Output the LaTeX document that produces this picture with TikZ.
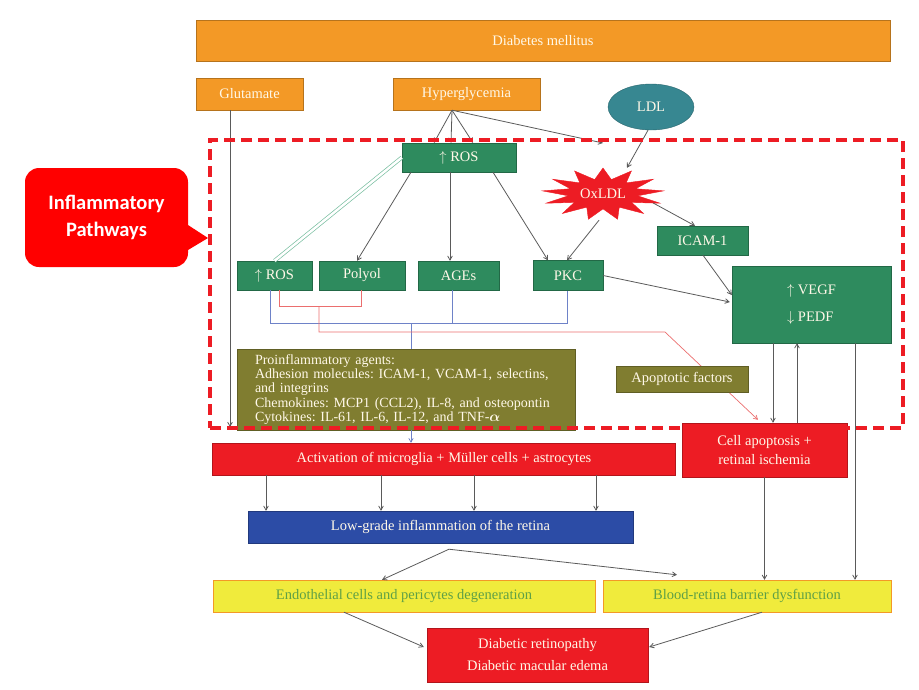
\documentclass[tikz,border=0pt]{standalone}
\usepackage{amsmath,amssymb}
\usepackage{fontspec}
\setmainfont{Liberation Serif}
\newfontfamily\calloutfont{Carlito}
\usepackage{xcolor}
\usepackage{tikz}
\usetikzlibrary{positioning,%
  arrows,%
  shapes.geometric,%
  calc}

\definecolor{dmorange}{RGB}{243,153,38}
\definecolor{dmgreen}{RGB}{46,139,94}
\definecolor{dmteal}{RGB}{55,135,145}
\definecolor{dmred}{RGB}{237,28,36}
\definecolor{dmolive}{RGB}{128,125,48}
\definecolor{dmblue}{RGB}{44,76,166}
\definecolor{dmyellow}{RGB}{240,235,60}
\definecolor{dmtext}{RGB}{255,248,232}
\definecolor{dmyeltext}{RGB}{95,160,70}
\definecolor{dmgray}{RGB}{90,90,90}
\definecolor{dmblueline}{RGB}{110,130,200}
\definecolor{dmredline}{RGB}{235,110,110}
\definecolor{dmdouble}{RGB}{120,190,160}
\definecolor{callred}{RGB}{255,0,0}

\begin{document}
\frenchspacing
\begin{tikzpicture}
            [
                x=1pt, y=-1pt,
                >=angle 60,
                box/.style={draw=#1!75!black, fill=#1, text=dmtext, inner sep=0pt,
                    font=\fontsize{14.5}{16}\selectfont, align=center},
                orangebox/.style={box=dmorange},
                greenbox/.style={box=dmgreen},
                redbox/.style={box=dmred},
                olivebox/.style={box=dmolive},
                bluebox/.style={box=dmblue},
                yellowbox/.style={box=dmyellow, draw=dmorange, text=dmyeltext},
                conn/.style={->, draw=dmgray, line width=0.8pt},
                bluel/.style={draw=dmblueline, line width=0.7pt},
                redl/.style={draw=dmredline, line width=0.7pt}
            ]
            \useasboundingbox (0,0) rectangle (919,689);

            % top row
            \node[orangebox, minimum width=694pt, minimum height=41pt] (dm) at (543,41) {Diabetes mellitus};
            \node[orangebox, minimum width=107pt, minimum height=32pt] (glut) at (249.5,94) {Glutamate};
            \node[orangebox, minimum width=147pt, minimum height=32pt] (hyper) at (466.5,94) {Hyperglycemia};
            \node[box=dmteal, ellipse, minimum width=86pt, minimum height=46pt] (ldl) at (651,107) {LDL};

            % inflammatory pathways
            \node[greenbox, minimum width=114pt, minimum height=29pt] (rosa) at (459,157.5) {$\uparrow$ ROS};
            \begin{scope}[shift={(603,194)}, xscale=2.35]
                \node[star, star points=13, star point ratio=1.75, fill=dmred, draw=dmred,
                    minimum size=52pt, inner sep=0pt, transform shape] (oxstar) {};
            \end{scope}
            \node[ellipse, minimum width=122pt, minimum height=52pt, text=dmtext,
                font=\fontsize{14.5}{16}\selectfont] (oxldl) at (603,194) {OxLDL};
            \node[greenbox, minimum width=91pt, minimum height=29pt] (icam) at (702.5,240.5) {ICAM-1};
            \node[greenbox, minimum width=75pt, minimum height=29pt] (rosb) at (274.5,275.5) {$\uparrow$ ROS};
            \node[greenbox, minimum width=86pt, minimum height=29pt] (polyol) at (362,275.5) {Polyol};
            \node[greenbox, minimum width=81pt, minimum height=29pt] (ages) at (458.5,275.5) {AGEs};
            \node[greenbox, minimum width=70pt, minimum height=30pt] (pkc) at (568,275.5) {PKC};
            \node[greenbox, minimum width=159pt, minimum height=77pt, align=left,
                font=\fontsize{14.5}{27}\selectfont] (vegf) at (811.5,304.5) {$\uparrow$ VEGF\\$\downarrow$ PEDF};
            \node[olivebox, minimum width=338pt, minimum height=81pt, text width=302pt,
                inner xsep=18pt, align=left, font=\fontsize{14}{14.3}\selectfont] (proinf) at (406,389.5)
                {Proinflammatory agents:\\
                 Adhesion molecules: ICAM-1, VCAM-1, selectins,\\
                 and integrins\\
                 Chemokines: MCP1 (CCL2), IL-8, and osteopontin\\
                 Cytokines: IL-61, IL-6, IL-12, and TNF-$\boldsymbol{\alpha}$};

            % lower part
            \node[redbox, minimum width=463pt, minimum height=32pt] (activ) at (444,459)
                {Activation of microglia + Müller cells + astrocytes};
            \node[redbox, minimum width=165pt, minimum height=54pt, font=\fontsize{14.5}{19}\selectfont]
                (cellap) at (764.5,450) {Cell apoptosis +\\retinal ischemia};
            \node[bluebox, minimum width=385pt, minimum height=32pt] (lowg) at (440.5,527)
                {Low-grade inflammation of the retina};
            \node[yellowbox, minimum width=382pt, minimum height=32pt] (endo) at (404,596)
                {Endothelial cells and pericytes degeneration};
            \node[yellowbox, minimum width=288pt, minimum height=32pt] (bloodr) at (747,596)
                {Blood-retina barrier dysfunction};
            \node[redbox, minimum width=221pt, minimum height=54pt, font=\fontsize{14.5}{22}\selectfont]
                (dr) at (537.5,655) {Diabetic retinopathy\\Diabetic macular edema};

            % connectors
            \coordinate (hfork) at ([xshift=-14.5pt]hyper.south);
            \coordinate (oxtip) at (603,143);
            \coordinate (gluttip) at (230,427);
            \foreach \dx in {-25,-8,14}
                \draw[conn] (hfork) -- ([xshift=\dx pt]rosa.north);
            \draw[conn] (hfork) -- (oxtip);
            \draw[conn] ([xshift=-19.5pt]glut.south) -- (gluttip);
            \draw[draw=dmdouble, double=white, double distance=2.5pt, line width=0.7pt]
                (rosa.west) -- (rosb.north);
            \draw[conn] ([xshift=-48pt]rosa.south) -- ([xshift=-5pt]polyol.north);
            \draw[conn] ([xshift=-9pt]rosa.south) -- ([xshift=-8.5pt]ages.north);
            \draw[conn] ([xshift=34pt]rosa.south) -- ([xshift=-20pt]pkc.north);
            \draw[conn] ([xshift=-3pt]ldl.south) -- ([xshift=24pt]oxldl.north);
            \draw[conn] ([xshift=-4pt]oxldl.south) -- ([xshift=-1pt]pkc.north);
            \draw[conn] ([xshift=-11pt,yshift=-9pt]oxldl.east) -- ([xshift=-7.5pt]icam.north);
            \draw[conn] ([xshift=0.5pt]icam.south) -- ([yshift=9.5pt]vegf.west);
            \draw[conn] (pkc.east) -- ([xshift=-2pt,yshift=2.5pt]vegf.west);
            \draw[conn] ([xshift=-38.5pt]vegf.south) -- ([xshift=8.5pt]cellap.north);
            \draw[conn] ([xshift=32.5pt]cellap.north) -- ([xshift=-14.5pt]vegf.south);
            \draw[conn] ([xshift=43.5pt]vegf.south) -- ([xshift=108pt]bloodr.north);
            \draw[conn] (cellap.south) -- ([xshift=17.5pt]bloodr.north);

            % blue and red pathways
            \coordinate (bluebus) at (411,324);
            \draw[bluel] ([xshift=-4.5pt]rosb.south) |- ([xshift=-1pt,yshift=-33pt]pkc.south)
                -- ([xshift=-1pt]pkc.south);
            \draw[bluel] ([xshift=-6.5pt]ages.south) -- ([xshift=-6.5pt,yshift=-33pt]ages.south);
            \draw[bluel] (bluebus) -- ([xshift=5pt]proinf.north);
            \draw[bluel,->] ([xshift=5pt]proinf.south) -- ([xshift=-33pt]activ.north);
            \coordinate (redsplit) at (319,306);
            \coordinate (redbend) at (665,332);
            \draw[redl] ([xshift=4.5pt]rosb.south) |- ([xshift=-1pt,yshift=-16pt]polyol.south)
                -- ([xshift=-1pt]polyol.south);
            \draw[redl,->] (redsplit) |- (redbend) -- ([xshift=-6.5pt,yshift=3pt]cellap.north);
            \node[olivebox, minimum width=132pt, minimum height=26pt] (apopf) at (682,379) {Apoptotic factors};

            \foreach \dx in {-178,-63,30,152}
                \draw[conn] ([xshift=\dx pt]activ.south) -- ([xshift=\dx pt+3.5pt]lowg.north);
            \coordinate (lfork) at ([xshift=8.5pt,yshift=-6pt]lowg.south);
            \draw[conn] (lfork) -- ([xshift=-22pt]endo.north);
            \draw[conn] (lfork) -- ([xshift=-70pt,yshift=5pt]bloodr.north);
            \draw[conn] ([xshift=-60pt]endo.south) -- ([xshift=-3pt,yshift=8pt]dr.west);
            \draw[conn] ([xshift=15pt]bloodr.south) -- ([xshift=1pt,yshift=8pt]dr.east);

            % dashed frame and callout
            \node[draw=dmred, line width=4pt, dash pattern=on 11pt off 6pt,
                minimum width=693pt, minimum height=288pt] (frame) at (556.5,284) {};
            \node[fill=callred, rounded corners=14pt, minimum width=163pt, minimum height=99pt,
                text=white, align=center, font=\calloutfont\bfseries\fontsize{20.5}{27}\selectfont]
                (callout) at (106.5,217.5) {Inflammatory\\Pathways};
            \coordinate (calltip) at (208,238);
            \fill[callred] ([xshift=-1pt,yshift=-7pt]callout.east) -- (calltip)
                -- ([xshift=-1pt,yshift=-33pt]callout.east) -- cycle;
        \end{tikzpicture}
\end{document}
